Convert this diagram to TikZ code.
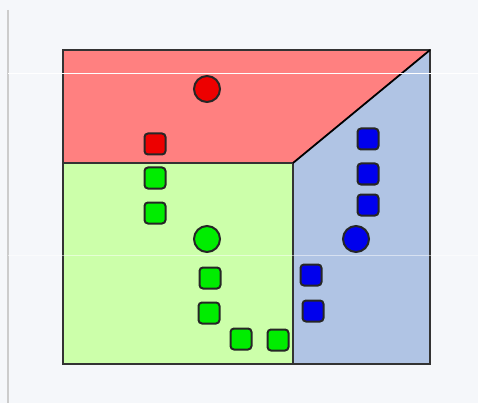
\documentclass[tikz,border=0pt]{standalone}
\begin{document}
\begin{tikzpicture}[x=1pt,y=-1pt,
  face/.style={draw=black!80,line width=1.2pt},
  sq/.style={draw=black!85,line width=2pt,rounded corners=3.5pt,minimum size=21pt,inner sep=0pt},
  dot/.style={circle,draw=black!85,line width=2pt,minimum size=26pt,inner sep=0pt},
  rd/.style={fill=red!93!black},
  gr/.style={fill=green!93!black},
  bl/.style={fill=blue!93!black}]
\definecolor{bg}{HTML}{F5F7FA}
\definecolor{redface}{HTML}{FF8080}
\definecolor{greenface}{HTML}{CCFFAA}
\definecolor{blueface}{HTML}{B0C4E4}
\fill[bg] (0,0) rectangle (478,403);
\useasboundingbox (0,0) rectangle (478,403);
\draw[black!20,line width=1.5pt] (8,10) -- (8,403);
% faces
\fill[redface] (63,50) -- (430,50) -- (293,163) -- (63,163) -- cycle;
\fill[greenface] (63,163) rectangle (293,364);
\fill[blueface] (293,163) -- (430,50) -- (430,364) -- (293,364) -- cycle;
\draw[face] (63,163) -- (63,50) -- (430,50) -- (430,364) -- (63,364) -- cycle;
\draw[face] (63,163) -- (293,163) -- (293,364);
\draw[black,line width=1.8pt] (293,163) -- (430,50);
% artifacts
\draw[white,line width=1pt] (8,74) -- (478,74);
\draw[white,opacity=0.5,line width=1pt] (8,255) -- (478,255);
% red
\node[dot,rd] (rc) at (207,89) {};
\node[sq,rd] (r1) at (155,144) {};
% green
\node[sq,gr] (g1) at (155,178) {};
\node[sq,gr] (g2) at (155,213) {};
\node[dot,gr] (gc) at (207,239) {};
\node[sq,gr] (g3) at (210,278) {};
\node[sq,gr] (g4) at (209,313) {};
\node[sq,gr] (g5) at (241,339) {};
\node[sq,gr] (g6) at (278,340) {};
% blue
\node[sq,bl] (b1) at (368,139) {};
\node[sq,bl] (b2) at (368,174) {};
\node[sq,bl] (b3) at (368,205) {};
\node[dot,bl] (bc) at (356,239) {};
\node[sq,bl] (b4) at (311,275) {};
\node[sq,bl] (b5) at (313,311) {};
\end{tikzpicture}
\end{document}
